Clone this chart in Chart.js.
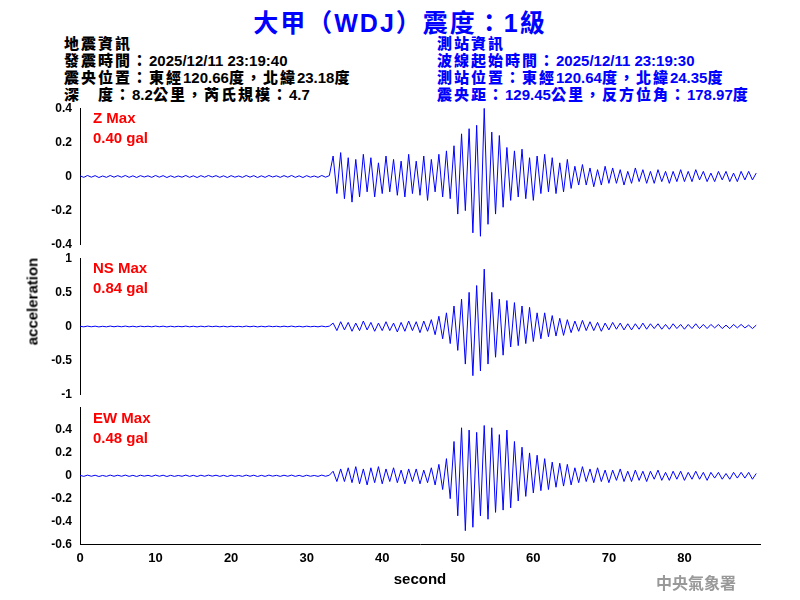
<!DOCTYPE html>
<html><head><meta charset="utf-8">
<script src="https://cdn.jsdelivr.net/npm/chart.js@4"></script>
<style>
body{margin:0;width:800px;height:600px;background:#fff;position:relative;font-family:"Liberation Sans",Arial,sans-serif;overflow:hidden}
.t{position:absolute;white-space:nowrap}
.cjk{font-family:"Liberation Sans","Noto Sans CJK TC",sans-serif;font-size:15px;line-height:16px;font-weight:bold}
.cjk b{font-family:"Noto Sans CJK TC";font-size:15px;letter-spacing:2px}
.box{position:absolute;left:0;width:800px}
</style></head><body>
<div class="t" style="left:0;width:800px;text-align:center;top:3px;font:bold 25px 'Liberation Sans','Noto Sans CJK TC';color:#0000ff;letter-spacing:2px">大甲（WDJ）震度：1級</div>
<div class="t cjk" style="left:64px;top:35px;color:#000"><b>地震資訊</b><br><b>發震時間：</b>2025/12/11 23:19:40<br><b>震央位置：東經</b>120.66<b>度，北緯</b>23.18<b>度</b><br><b>深　度：</b>8.2<b>公里，芮氏規模：</b>4.7</div>
<div class="t cjk" style="left:437px;top:35px;color:#0000ff"><b>測站資訊</b><br><b>波線起始時間：</b>2025/12/11 23:19:30<br><b>測站位置：東經</b>120.64<b>度，北緯</b>24.35<b>度</b><br><b>震央距：</b>129.45<b>公里，反方位角：</b>178.97<b>度</b></div>
<div class="box" style="top:98px;height:157px"><canvas id="c1"></canvas></div>
<div class="box" style="top:248px;height:157px"><canvas id="c2"></canvas></div>
<div class="box" style="top:397px;height:192px"><canvas id="c3"></canvas></div>
<div class="t" style="left:93px;top:108px;color:#f00;font:bold 15px 'Liberation Sans';line-height:20px">Z Max<br>0.40 gal</div>
<div class="t" style="left:93px;top:258px;color:#f00;font:bold 15px 'Liberation Sans';line-height:20px">NS Max<br>0.84 gal</div>
<div class="t" style="left:93px;top:408px;color:#f00;font:bold 15px 'Liberation Sans';line-height:20px">EW Max<br>0.48 gal</div>
<div class="t" style="left:-18px;top:293px;transform:rotate(-90deg);font:bold 15px 'Liberation Sans';width:100px;text-align:center">acceleration</div>
<div class="t" style="left:656px;top:570px;color:#999;font:bold 16px 'Noto Sans CJK TC'">中央氣象署</div>
<script>
const PRE_NOISE=[0.004,-0.005,0.006,-0.004,0.005,-0.006,0.003,-0.005,0.006,-0.004,0.005,-0.004,0.006,-0.005,0.004,-0.006,0.005,-0.003,0.004,-0.005,0.006,-0.004,0.005,-0.006,0.004,-0.005,0.003,-0.004,0.006,-0.005,0.004,-0.006,0.005,-0.004,0.006,-0.003,0.005,-0.005,0.004,-0.006,0.005,-0.004,0.003,-0.005,0.006,-0.004,0.005,-0.006,0.004,-0.005,0.006,-0.003,0.004,-0.005,0.005,-0.004,0.006,-0.005,0.004,-0.006,0.005,-0.004,0.003,-0.005,0.006,-0.004,0.005];
const Z_MAIN=[0.12,-0.10,0.14,-0.13,0.11,-0.15,0.10,-0.12,0.13,-0.09,0.11,-0.12,0.08,-0.10,0.12,-0.09,0.10,-0.11,0.09,-0.12,0.13,-0.10,0.09,-0.11,0.12,-0.14,0.10,-0.09,0.13,-0.12,0.15,-0.13,0.18,
-0.22,0.25,-0.20,0.28,-0.33,0.30,-0.35,0.40,-0.28,0.26,-0.22,0.24,-0.18,
0.17,-0.14,0.15,-0.12,0.16,-0.13,0.11,-0.14,0.12,-0.10,0.13,-0.09,0.11,-0.10,0.08,-0.09,0.10,-0.07,
0.06,-0.05,0.07,-0.05,0.05,-0.06,0.04,-0.05,0.06,-0.04,0.05,-0.04,0.04,-0.05,0.03,-0.04,0.05,-0.03,0.04,-0.04,0.03,-0.04,0.04,-0.03,0.03,-0.04,0.03,-0.03,0.04,-0.03,0.03,-0.03,0.04,-0.02,0.03,-0.03,0.02,-0.03,0.03,-0.02,0.03,-0.03,0.02,-0.03,0.03,-0.02,0.03,-0.02,0.02];
const NS_MAIN=[0.05,-0.06,0.07,-0.05,0.06,-0.07,0.05,-0.06,0.08,-0.05,0.06,-0.07,0.05,-0.06,0.07,-0.06,0.05,-0.08,0.06,-0.07,0.08,-0.06,0.07,-0.09,0.08,-0.07,0.10,-0.12,0.15,-0.18,0.20,-0.25,0.30,
-0.35,0.40,-0.55,0.50,-0.72,0.60,-0.65,0.84,-0.55,0.50,-0.45,0.40,-0.42,
0.38,-0.30,0.35,-0.28,0.30,-0.25,0.28,-0.22,0.20,-0.18,0.20,-0.15,0.16,-0.14,0.12,-0.13,0.10,-0.09,
0.08,-0.07,0.09,-0.06,0.07,-0.06,0.06,-0.07,0.05,-0.05,0.06,-0.04,0.05,-0.05,0.04,-0.05,0.04,-0.04,0.05,-0.04,0.04,-0.03,0.04,-0.04,0.03,-0.04,0.04,-0.03,0.03,-0.04,0.03,-0.03,0.04,-0.03,0.03,-0.03,0.03,-0.02,0.03,-0.03,0.02,-0.03,0.03,-0.02,0.03,-0.02,0.02,-0.03,0.02];
const EW_MAIN=[0.04,-0.05,0.06,-0.05,0.07,-0.06,0.08,-0.07,0.06,-0.08,0.07,-0.06,0.08,-0.07,0.06,-0.05,0.07,-0.06,0.05,-0.07,0.06,-0.05,0.06,-0.07,0.05,-0.06,0.07,-0.08,0.10,-0.12,0.15,-0.20,0.30,
-0.35,0.42,-0.48,0.40,-0.45,0.38,-0.35,0.44,-0.38,0.42,-0.32,0.36,-0.30,
0.40,-0.28,0.30,-0.22,0.25,-0.18,0.20,-0.15,0.18,-0.13,0.15,-0.12,0.12,-0.10,0.11,-0.09,0.10,-0.08,
0.07,-0.06,0.08,-0.05,0.06,-0.06,0.07,-0.05,0.05,-0.06,0.05,-0.04,0.06,-0.05,0.04,-0.05,0.05,-0.04,0.04,-0.05,0.04,-0.03,0.05,-0.04,0.03,-0.04,0.04,-0.03,0.04,-0.04,0.03,-0.03,0.04,-0.03,0.03,-0.04,0.03,-0.02,0.03,-0.03,0.02,-0.03,0.03,-0.02,0.03,-0.02,0.03,-0.03,0.02];
const Z_VALUES=PRE_NOISE.concat(Z_MAIN), NS_VALUES=PRE_NOISE.concat(NS_MAIN), EW_VALUES=PRE_NOISE.concat(EW_MAIN);
const SAMPLE_STEP=0.5;
const X_TICKS=[0,10,20,30,40,50,60,70,80];
const font={family:"'Liberation Sans',Arial",size:12,weight:'bold'};
function pts(v){return v.map((y,i)=>({x:i*SAMPLE_STEP,y}));}
function make(id,vals,ymin,ymax,step,showX,hideTop,pb){
  new Chart(document.getElementById(id),{type:'line',
    data:{datasets:[{data:pts(vals),borderColor:'#0000ff',borderWidth:1,pointRadius:0,tension:0}]},
    options:{responsive:true,maintainAspectRatio:false,animation:false,
      layout:{padding:{top:8,right:40,bottom:pb,left:0}},
      plugins:{legend:{display:false},tooltip:{enabled:false}},
      scales:{
        x:{type:'linear',min:0,max:90,display:showX,grid:{display:false,drawTicks:true,tickLength:5,tickColor:'#000'},border:{color:'#000'},
          afterBuildTicks:a=>{a.ticks=X_TICKS.map(v=>({value:v}));},
          ticks:{color:'#000',font:{family:"'Liberation Sans'",size:13,weight:'bold'},autoSkip:false,maxRotation:0,padding:1},
          title:{display:true,text:'second',color:'#000',font:{family:"'Liberation Sans'",size:15,weight:'bold'},padding:{top:4,bottom:0}}},
        y:{min:ymin,max:ymax,grid:{display:false,tickLength:5,tickColor:'#000'},border:{color:'#000'},
          afterFit:a=>{a.width=80;},
          ticks:{stepSize:step,color:'#000',font,callback:v=>(hideTop&&Math.abs(v-ymax)<1e-9)?'':String(Math.round(v*10)/10)}}
      }}});
}
make('c1',Z_VALUES,-0.4,0.4,0.2,false,false,7);
make('c2',NS_VALUES,-1,1,0.5,false,false,7);
make('c3',EW_VALUES,-0.6,0.6,0.2,true,true,0);
</script></body></html>
